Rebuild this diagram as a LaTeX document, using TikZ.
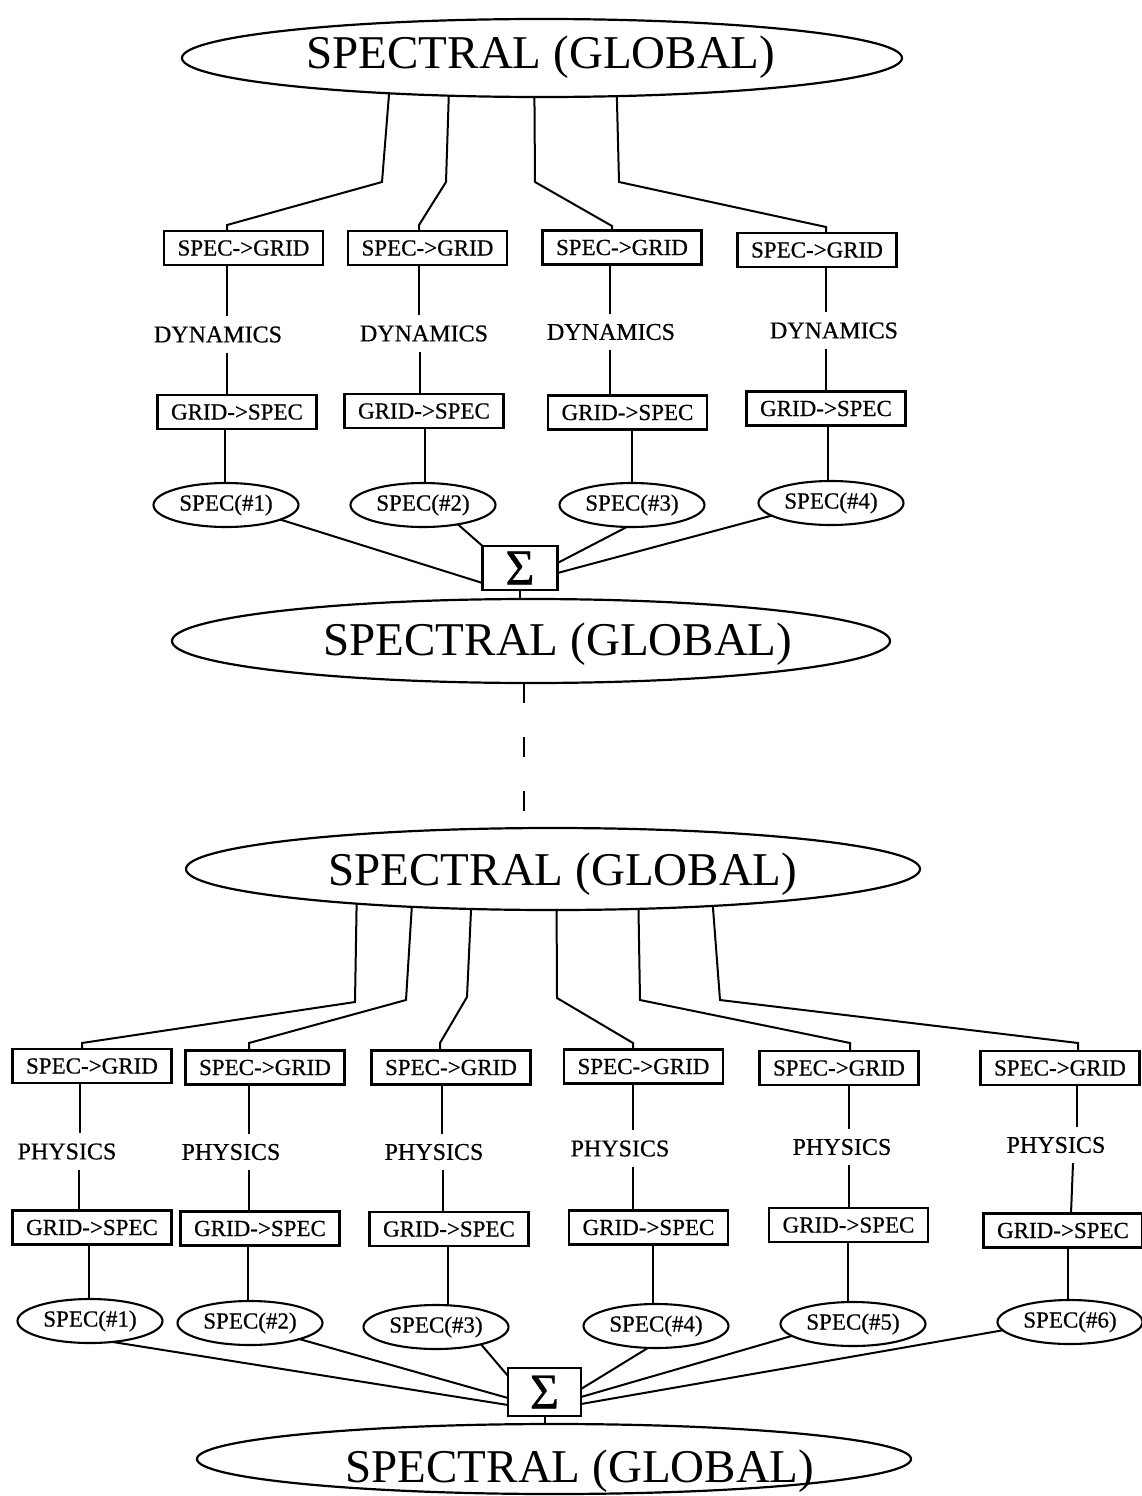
\documentclass[tikz,border=0pt]{standalone}
\usepackage{fontspec}
\setmainfont{Liberation Serif}
\newfontfamily\labelfont[FakeBold=0.6]{Liberation Serif}
\usetikzlibrary{shapes.geometric}
\begin{document}
\begin{tikzpicture}[x=1pt,y=-1pt,
  every node/.style={inner sep=0pt, outer sep=0pt},
  conv/.style={draw, line width=2.3pt, minimum width=159pt, minimum height=34pt,
               font=\labelfont\fontsize{23}{23}\selectfont},
  stage/.style={font=\labelfont\fontsize{24}{24}\selectfont, inner xsep=2pt, inner ysep=10pt},
  part/.style={draw, ellipse, line width=2.1pt, minimum width=145pt, minimum height=44pt,
               font=\labelfont\fontsize{23}{23}\selectfont},
  whole/.style={draw, ellipse, line width=2.2pt},
  bigtext/.style={font=\fontsize{47}{47}\selectfont, anchor=base},
  sumbox/.style={draw, line width=2.3pt, minimum width=75pt, minimum height=44pt,
                 font=\labelfont\fontsize{50}{50}\selectfont},
  link/.style={line width=2pt},
]
\useasboundingbox (0,0) rectangle (1142,1496);

% ---------- dynamics stage ----------
\node[whole, minimum width=720pt, minimum height=78pt] (E1) at (542,58) {};
\node[bigtext] (T1) at (541,68) {SPECTRAL (GLOBAL)};

\node[conv] (a1) at (243.5,248) {SPEC->GRID};
\node[conv] (a2) at (427.5,248) {SPEC->GRID};
\node[conv] (a3) at (622,247.5) {SPEC->GRID};
\node[conv] (a4) at (817,250) {SPEC->GRID};

\node[stage] (d1) at (218,334.5) {DYNAMICS};
\node[stage] (d2) at (424,333.5) {DYNAMICS};
\node[stage] (d3) at (611,332) {DYNAMICS};
\node[stage] (d4) at (834,330.5) {DYNAMICS};

\node[conv] (b1) at (237,412) {GRID->SPEC};
\node[conv] (b2) at (424,411) {GRID->SPEC};
\node[conv] (b3) at (627.5,412.5) {GRID->SPEC};
\node[conv] (b4) at (826,408.5) {GRID->SPEC};

\node[part] (s1) at (226,505) {SPEC(\#1)};
\node[part] (s2) at (423,505) {SPEC(\#2)};
\node[part] (s3) at (632,505) {SPEC(\#3)};
\node[part] (s4) at (831,503) {SPEC(\#4)};

\node[sumbox] (g1) at (520,568) {Σ};

\node[whole, minimum width=718pt, minimum height=84pt] (E2) at (531,641) {};
\node[bigtext] (T2) at (558,655) {SPECTRAL (GLOBAL)};

\draw[link] (E1.193.4) -- (382,182) -- (227,225) -- (a1.north -| 227,0);
\draw[link] (E1.202.5) -- (446,182) -- (419,225) -- (a2.north -| 419,0);
\draw[link] (E1.259.8) -- (535,182) -- (612,226) -- (a3.north -| 612,0);
\draw[link] (E1.333.7) -- (619,182) -- (826,227) -- (a4.north -| 826,0);

\draw[link] (a1.south -| 227,0) -- (d1.north -| 227,0);
\draw[link] (d1.south -| 227,0) -- (b1.north -| 227,0);
\draw[link] (b1.south -| 225,0) -- (s1.north -| 225,0);
\draw[link] (a2.south -| 419,0) -- (d2.north -| 419,0);
\draw[link] (d2.south -| 420,0) -- (b2.north -| 420,0);
\draw[link] (b2.south -| 425,0) -- (s2.north -| 425,0);
\draw[link] (a3.south -| 610,0) -- (d3.north -| 610,0);
\draw[link] (d3.south -| 610,0) -- (b3.north -| 610,0);
\draw[link] (b3.south -| 632,0) -- (s3.north -| 632,0);
\draw[link] (a4.south -| 826,0) -- (d4.north -| 826,0);
\draw[link] (d4.south -| 826,0) -- (b4.north -| 826,0);
\draw[link] (b4.south -| 828,0) -- (s4.north -| 828,0);

\draw[link] (s1.345) -- (g1.west |- 0,583);
\draw[link] (s2.331) -- (g1.north west);
\draw[link] (s3.257) -- (g1.east |- 0,563);
\draw[link] (s4.192.5) -- (g1.east |- 0,573);
\draw[link] (g1.south) -- (E2.north -| g1.south);

% ---------- link between the two stages ----------
\node[whole, minimum width=734pt, minimum height=82pt] (E3) at (553,869) {};
\node[bigtext] (T3) at (563,885) {SPECTRAL (GLOBAL)};
\draw[link, dash pattern=on 20pt off 34pt] (E2.south -| 524,0) -- (E3.north -| 524,0);

% ---------- physics stage ----------
\node[conv] (A1) at (92,1066) {SPEC->GRID};
\node[conv] (A2) at (265,1067.5) {SPEC->GRID};
\node[conv] (A3) at (451,1067.5) {SPEC->GRID};
\node[conv] (A4) at (643.5,1066.5) {SPEC->GRID};
\node[conv] (A5) at (839,1068) {SPEC->GRID};
\node[conv] (A6) at (1060,1068) {SPEC->GRID};

\node[stage] (P1) at (67,1151.5) {PHYSICS};
\node[stage] (P2) at (231,1152) {PHYSICS};
\node[stage] (P3) at (434,1152) {PHYSICS};
\node[stage] (P4) at (620,1148.5) {PHYSICS};
\node[stage] (P5) at (842,1147) {PHYSICS};
\node[stage] (P6) at (1056,1145) {PHYSICS};

\node[conv] (B1) at (92,1227.5) {GRID->SPEC};
\node[conv] (B2) at (260,1228.5) {GRID->SPEC};
\node[conv] (B3) at (449,1229) {GRID->SPEC};
\node[conv] (B4) at (648.5,1227.5) {GRID->SPEC};
\node[conv] (B5) at (848.5,1225) {GRID->SPEC};
\node[conv] (B6) at (1063,1230.5) {GRID->SPEC};

\node[part] (S1) at (90,1321) {SPEC(\#1)};
\node[part] (S2) at (250,1323) {SPEC(\#2)};
\node[part] (S3) at (436,1327) {SPEC(\#3)};
\node[part] (S4) at (656,1326) {SPEC(\#4)};
\node[part] (S5) at (853,1324) {SPEC(\#5)};
\node[part] (S6) at (1070,1322) {SPEC(\#6)};

\node[sumbox, minimum width=73pt, minimum height=48pt] (g2) at (544.5,1392) {Σ};

\node[whole, minimum width=714pt, minimum height=70pt] (E4) at (554,1459) {};
\node[bigtext] (T4) at (580,1482) {SPECTRAL (GLOBAL)};

\draw[link] (E3.190) -- (355,1002) -- (82,1043) -- (A1.north -| 82,0);
\draw[link] (E3.195.3) -- (406,1000) -- (249,1043) -- (A2.north -| 249,0);
\draw[link] (E3.206.3) -- (467,997) -- (440,1043) -- (A3.north -| 440,0);
\draw[link] (E3.275.6) -- (557,998) -- (633,1043) -- (A4.north -| 633,0);
\draw[link] (E3.335.4) -- (640,1000) -- (850,1043) -- (A5.north -| 850,0);
\draw[link] (E3.347.7) -- (720,1000) -- (1078,1043) -- (A6.north -| 1078,0);

\draw[link] (A1.south -| 80,0) -- (P1.north -| 80,0);
\draw[link] (P1.south -| 79,0) -- (B1.north -| 79,0);
\draw[link] (B1.south -| 89,0) -- (S1.north -| 89,0);
\draw[link] (A2.south -| 249,0) -- (P2.north -| 249,0);
\draw[link] (P2.south -| 249,0) -- (B2.north -| 249,0);
\draw[link] (B2.south -| 248,0) -- (S2.north -| 248,0);
\draw[link] (A3.south -| 442,0) -- (P3.north -| 442,0);
\draw[link] (P3.south -| 443,0) -- (B3.north -| 443,0);
\draw[link] (B3.south -| 448,0) -- (S3.north -| 448,0);
\draw[link] (A4.south -| 633,0) -- (P4.north -| 633,0);
\draw[link] (P4.south -| 633,0) -- (B4.north -| 633,0);
\draw[link] (B4.south -| 653,0) -- (S4.north -| 653,0);
\draw[link] (A5.south -| 849,0) -- (P5.north -| 849,0);
\draw[link] (P5.south -| 849,0) -- (B5.north -| 849,0);
\draw[link] (B5.south -| 848,0) -- (S5.north -| 848,0);
\draw[link] (A6.south -| 1077,0) -- (P6.north -| 1077,0);
\draw[link] (P6.south -| 1073,0) -- (B6.north -| 1071,0);
\draw[link] (B6.south -| 1068,0) -- (S6.north -| 1068,0);

\draw[link] (S1.317.7) -- (g2.west |- 0,1405);
\draw[link] (S2.342.5) -- (g2.west |- 0,1398);
\draw[link] (S3.339.7) -- (g2.west |- 0,1376);
\draw[link] (S4.250) -- (g2.east |- 0,1389);
\draw[link] (S5.191.6) -- (g2.east |- 0,1397);
\draw[link] (S6.187.8) -- (g2.east |- 0,1404);
\draw[link] (g2.south) -- (E4.north -| g2.south);
\end{tikzpicture}
\end{document}
